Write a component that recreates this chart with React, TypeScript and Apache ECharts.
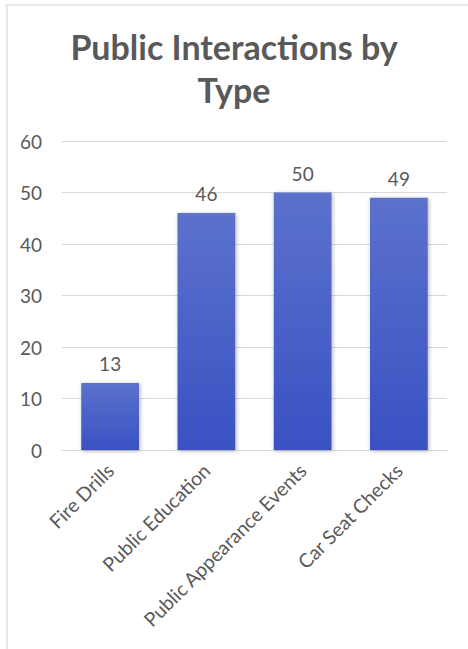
import React, { useEffect, useRef } from "react";
import * as echarts from "echarts";

const titleText = "Public Interactions by\nType";
const categories = ["Fire Drills", "Public Education", "Public Appearance Events", "Car Seat Checks"];
const values = [13, 46, 50, 49];
const yTicks = { min: 0, max: 60, interval: 10 };

export default function App() {
  const ref = useRef<HTMLDivElement>(null);
  useEffect(() => {
    if (!ref.current) return;
    const chart = echarts.init(ref.current, undefined, { renderer: "svg" });
    const font = "Lato";
    const txt = "#595959";
    chart.setOption({
      animation: false,
      backgroundColor: "#ffffff",
      textStyle: { fontFamily: font },
      title: {
        text: titleText,
        left: "center",
        top: 20,
        textStyle: { fontFamily: font, fontSize: 34, fontWeight: "bold", color: txt, lineHeight: 43 },
      },
      graphic: [
        { type: "rect", shape: { x: 5, y: 4, width: 463, height: 2 }, style: { fill: "#e9e9e9" } },
        { type: "rect", shape: { x: 6, y: 4, width: 2, height: 645 }, style: { fill: "#e9e9e9" } },
      ],
      grid: { left: 62, right: 21, top: 141, bottom: 199, containLabel: false },
      xAxis: {
        type: "category",
        data: categories,
        axisLine: { show: true, lineStyle: { color: "#d9d9d9", width: 1 } },
        axisTick: { show: false },
        axisLabel: { rotate: 45, color: txt, fontSize: 19.5, fontFamily: font, margin: 17, interval: 0 },
      },
      yAxis: {
        type: "value",
        min: yTicks.min,
        max: yTicks.max,
        interval: yTicks.interval,
        axisLine: { show: false },
        axisTick: { show: false },
        splitLine: { lineStyle: { color: "#d9d9d9", width: 1 } },
        axisLabel: { color: txt, fontSize: 19, fontFamily: font, margin: 20 },
      },
      series: [
        {
          type: "bar",
          data: values,
          barCategoryGap: "40%",
          itemStyle: {
            color: new echarts.graphic.LinearGradient(0, 0, 0, 1, [
              { offset: 0, color: "#5b72cc" },
              { offset: 1, color: "#3a51c3" },
            ]),
            shadowBlur: 4,
            shadowColor: "rgba(0,0,0,0.3)",
            shadowOffsetX: 1,
            shadowOffsetY: 1,
          },
          label: { show: true, position: "top", distance: 10, color: txt, fontSize: 19, fontFamily: font },
        },
      ],
    });
    return () => chart.dispose();
  }, []);
  return <div ref={ref} style={{ position: "fixed", left: 0, top: 0, width: 468, height: 649 }} />;
}
